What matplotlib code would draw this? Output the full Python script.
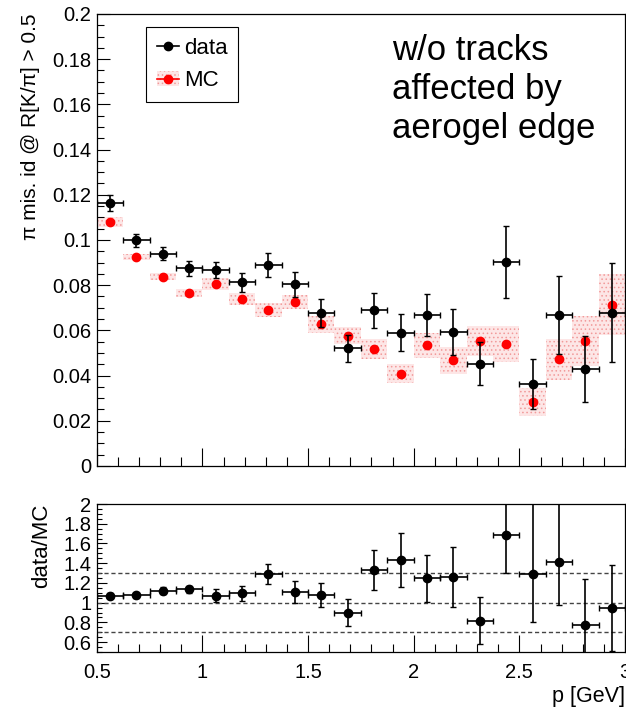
import matplotlib
matplotlib.use('Agg')
import matplotlib.pyplot as plt
from matplotlib.patches import Patch
from matplotlib.lines import Line2D
from matplotlib.ticker import MultipleLocator, FuncFormatter

plt.rcParams['font.family'] = ['Liberation Sans', 'DejaVu Sans']
plt.rcParams['hatch.linewidth'] = 0.6

# центры бинов по импульсу, ширина бина 0.125 ГэВ
p = [0.5625, 0.6875, 0.8125, 0.9375, 1.0625, 1.1875, 1.3125, 1.4375, 1.5625, 1.6875,
     1.8125, 1.9375, 2.0625, 2.1875, 2.3125, 2.4375, 2.5625, 2.6875, 2.8125, 2.9375]
bin_w = 0.125

# доля ошибочной идентификации пионов: данные
data_eff = [0.1164, 0.0998, 0.0940, 0.0874, 0.0867, 0.0812, 0.0890, 0.0804, 0.0676, 0.0521,
            0.0689, 0.0589, 0.0670, 0.0592, 0.0453, 0.0904, 0.0362, 0.0668, 0.0430, 0.0679]
data_err = [0.0037, 0.0030, 0.0030, 0.0035, 0.0037, 0.0044, 0.0053, 0.0056, 0.0063, 0.0059,
            0.0077, 0.0082, 0.0093, 0.0102, 0.0094, 0.0160, 0.0112, 0.0172, 0.0146, 0.0220]

# моделирование (MC)
mc_eff = [0.1080, 0.0924, 0.0838, 0.0767, 0.0804, 0.0740, 0.0692, 0.0724, 0.0627, 0.0577,
          0.0517, 0.0409, 0.0534, 0.0467, 0.0553, 0.0540, 0.0281, 0.0472, 0.0553, 0.0714]
mc_err = [0.0022, 0.0013, 0.0014, 0.0018, 0.0026, 0.0027, 0.0031, 0.0031, 0.0037, 0.0037,
          0.0044, 0.0041, 0.0055, 0.0060, 0.0068, 0.0078, 0.0062, 0.0091, 0.0109, 0.0134]

# отношение data/MC (ошибки вниз / вверх)
ratio = [1.068, 1.075, 1.122, 1.136, 1.071, 1.095, 1.288, 1.108, 1.078, 0.898,
         1.332, 1.434, 1.247, 1.264, 0.817, 1.681, 1.288, 1.414, 0.773, 0.946]
ratio_err_lo = [0.025, 0.025, 0.032, 0.037, 0.068, 0.078, 0.100, 0.107, 0.122, 0.136,
                0.203, 0.276, 0.237, 0.305, 0.237, 0.380, 0.480, 0.440, 0.464, 0.432]
ratio_err_hi = [0.025, 0.025, 0.032, 0.037, 0.068, 0.078, 0.100, 0.107, 0.122, 0.136,
                0.203, 0.276, 0.237, 0.305, 0.237, 0.450, 0.800, 0.700, 0.464, 0.432]

ref_lines = [0.7, 1.0, 1.3]

fmt = FuncFormatter(lambda v, pos: '%g' % round(v, 6))

fig = plt.figure(figsize=(6.26, 7.07), dpi=100)
ax1 = fig.add_axes([0.1545, 0.3409, 0.844, 0.6393])
ax2 = fig.add_axes([0.1545, 0.0778, 0.844, 0.2093])

# верхняя панель
mc_bottom = [m - e for m, e in zip(mc_eff, mc_err)]
mc_height = [2 * e for e in mc_err]
ax1.bar(p, mc_height, bottom=mc_bottom, width=bin_w, color='#fde6e6',
        hatch='....', edgecolor='#f29a9a', linewidth=0)
ax1.plot(p, mc_eff, 'o', color='red', ms=6)
ax1.errorbar(p, data_eff, yerr=data_err, xerr=bin_w / 2, fmt='o', color='black',
             ms=6, lw=1.2, capsize=2, capthick=1)

ax1.set_xlim(0.5, 3.0)
ax1.set_ylim(0, 0.2)
ax1.xaxis.set_major_locator(MultipleLocator(0.5))
ax1.xaxis.set_minor_locator(MultipleLocator(0.1))
ax1.yaxis.set_major_locator(MultipleLocator(0.02))
ax1.yaxis.set_minor_locator(MultipleLocator(0.005))
ax1.yaxis.set_major_formatter(fmt)
ax1.tick_params(which='both', direction='in', top=False, right=False, labelsize=14.5, width=0.8)
ax1.tick_params(axis='x', which='major', length=13, labelbottom=False)
ax1.tick_params(axis='x', which='minor', length=6.5)
ax1.tick_params(axis='y', which='major', length=9.4, pad=4)
ax1.tick_params(axis='y', which='minor', length=5)
ax1.set_ylabel('π mis. id @ R[K/π] > 0.5', fontsize=15, loc='top')
ax1.yaxis.set_label_coords(-0.107, 1.0)

h_data = Line2D([], [], color='black', marker='o', ms=6, lw=1.2)
h_mc = (Patch(facecolor='#fde6e6', hatch='....', edgecolor='#f29a9a', linewidth=0),
        Line2D([], [], color='red', marker='o', ms=6, lw=1.2))
leg = ax1.legend([h_data, h_mc], ['data', 'MC'], loc='upper left',
                 bbox_to_anchor=(0.093, 0.971), borderaxespad=0, fontsize=16,
                 fancybox=False, edgecolor='black', framealpha=1,
                 handlelength=1.0, handletextpad=0.2, borderpad=0.5, labelspacing=0.5)
leg.get_frame().set_linewidth(0.8)

ax1.text(0.559, 0.955, 'w/o tracks\naffected by\naerogel edge', transform=ax1.transAxes,
         va='top', ha='left', fontsize=25, linespacing=1.22)

# нижняя панель: отношение
for y in ref_lines:
    ax2.axhline(y, color='#444444', linestyle=(0, (3, 2)), lw=1)
ax2.errorbar(p, ratio, yerr=[ratio_err_lo, ratio_err_hi], xerr=bin_w / 2, fmt='o',
             color='black', ms=6, lw=1.2, capsize=2, capthick=1)
ax2.set_xlim(0.5, 3.0)
ax2.set_ylim(0.5, 2.0)
ax2.xaxis.set_major_locator(MultipleLocator(0.5))
ax2.xaxis.set_minor_locator(MultipleLocator(0.1))
ax2.yaxis.set_major_locator(MultipleLocator(0.2))
ax2.yaxis.set_minor_locator(MultipleLocator(0.05))
ax2.xaxis.set_major_formatter(fmt)
ax2.yaxis.set_major_formatter(fmt)
ax2.tick_params(which='both', direction='in', top=False, right=False, labelsize=14.5, width=0.8)
ax2.tick_params(axis='x', which='major', length=12, pad=8)
ax2.tick_params(axis='x', which='minor', length=6)
ax2.tick_params(axis='y', which='major', length=7, pad=4)
ax2.tick_params(axis='y', which='minor', length=3.6)
ax2.set_ylabel('data/MC', fontsize=16, loc='top')
ax2.yaxis.set_label_coords(-0.085, 1.0)
ax2.set_xlabel('p [GeV]', fontsize=15.5, loc='right', labelpad=3)

for ax in (ax1, ax2):
    for s in ax.spines.values():
        s.set_linewidth(0.9)

fig.savefig('out.png', dpi=100)
